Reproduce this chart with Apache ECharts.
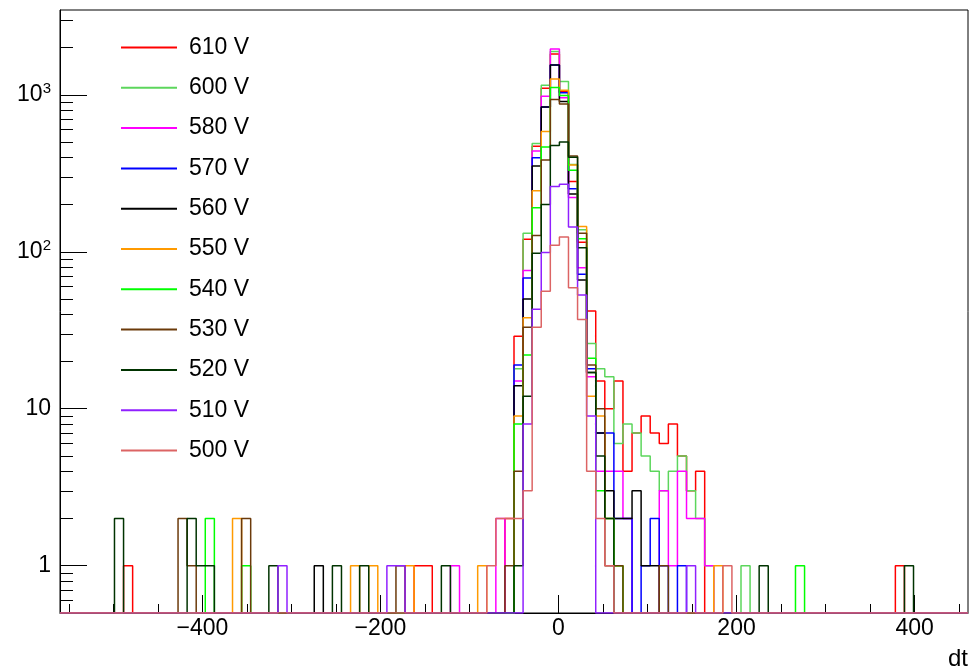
<!DOCTYPE html>
<html>
<head>
<meta charset="utf-8">
<script src="https://cdn.jsdelivr.net/npm/echarts@6/dist/echarts.min.js"></script>
<style>
  html, body { margin: 0; padding: 0; background: #ffffff; }
  #chart { width: 972px; height: 671px; }
</style>
</head>
<body>
<div id="chart"></div>
<script>
// Binning of the dt histograms
const dtMin = -560;
const dtMax = 460;
const nBins = 100;
const yMin = 0.5;
const yMax = 3467;

const voltages = ['610 V', '600 V', '580 V', '570 V', '560 V', '550 V', '540 V', '530 V', '520 V', '510 V', '500 V'];

// Non-empty bins per voltage: [bin index (0-based), entries]
const h610 = [[7,1],[39,1],[40,1],[49,2],[50,29],[51,120],[52,470],[53,1101],[54,1817],[55,1050],[56,280],[57,115],[58,42],[59,15],[60,10],[61,15],[62,4],[63,7],[64,9],[65,7],[66,6],[67,8],[68,5],[69,3],[70,4],[92,1]];
const h600 = [[50,18],[51,131],[52,490],[53,1150],[54,1888],[55,1213],[56,360],[57,138],[58,26],[59,18],[60,16],[61,6],[62,8],[63,7],[64,5],[65,4],[66,3],[67,4],[68,5],[69,3],[70,2],[71,1],[75,1]];
const h580 = [[43,1],[48,2],[50,15],[51,76],[52,438],[53,980],[54,1955],[55,957],[56,222],[57,79],[58,16],[59,4],[60,4],[61,4],[62,2],[66,3],[67,1],[68,4],[69,2],[70,2],[71,1]];
const h570 = [[50,19],[51,68],[52,397],[53,835],[54,1549],[55,1030],[56,252],[57,72],[58,18],[59,7],[60,7],[61,2],[62,2],[64,1],[65,2],[66,1],[68,1]];
const h560 = [[28,1],[50,14],[51,50],[52,352],[53,835],[54,1549],[55,907],[56,233],[57,66],[58,17],[59,7],[60,3],[61,2],[62,2],[63,3],[64,1],[65,1]];
const h550 = [[19,2],[32,1],[34,1],[38,1],[46,1],[50,9],[51,38],[52,245],[53,583],[54,1262],[55,1069],[56,357],[57,145],[58,12],[59,9],[60,2],[61,1],[72,1]];
const h540 = [[16,2],[20,1],[50,8],[51,22],[52,191],[53,464],[54,1112],[55,990],[56,330],[57,121],[58,21],[59,3],[60,2],[61,1],[81,1]];
const h530 = [[13,2],[14,1],[20,2],[37,1],[49,1],[50,4],[51,33],[52,127],[53,384],[54,934],[55,873],[56,408],[57,131],[58,19],[59,10],[60,1],[61,1],[66,1]];
const h520 = [[6,2],[14,2],[15,1],[16,1],[23,1],[30,1],[33,1],[42,1],[50,1],[51,12],[52,98],[53,200],[54,475],[55,501],[56,400],[57,106],[58,17],[59,5],[60,2],[77,1],[93,1]];
const h510 = [[24,1],[36,1],[37,1],[51,8],[52,43],[53,99],[54,260],[55,269],[56,144],[57,53],[58,9],[69,1]];
const h500 = [[47,1],[48,2],[49,2],[50,2],[51,3],[52,33],[53,56],[54,110],[55,124],[56,59],[57,37],[58,4],[59,2],[60,1],[73,1]];

// Axis ticks and labels
const xLabelTicks = [-400, -200, 0, 200, 400];
const xMinorTicks = [-550, -500, -450, -350, -300, -250, -150, -100, -50, 50, 100, 150, 250, 300, 350, 450];
const yLabelTicks = [1, 10, 100, 1000];
const yMinorTicks = [0.6, 0.7, 0.8, 0.9, 2, 3, 4, 5, 6, 7, 8, 9, 20, 30, 40, 50, 60, 70, 80, 90, 200, 300, 400, 500, 600, 700, 800, 900, 2000, 3000];

const histograms = [h610, h600, h580, h570, h560, h550, h540, h530, h520, h510, h500];
const lineColors = ['#ff0000', '#5cd65c', '#ff00ff', '#0000ff', '#000000', '#ff9a00', '#00ff00', '#6b3a0a', '#003300', '#9020ff', '#dc6464'];

const binWidth = (dtMax - dtMin) / nBins;

// Outline of a histogram: a flat segment across every bin; empty bins sit on the axis floor
function outline(entries) {
  const counts = new Array(nBins).fill(0);
  entries.forEach(([bin, n]) => { counts[bin] = n; });
  const pts = [];
  for (let k = 0; k < nBins; k++) {
    const lo = dtMin + k * binWidth;
    const hi = lo + binWidth;
    const v = counts[k] > 0 ? counts[k] : yMin;
    pts.push([lo, v], [hi, v]);
  }
  return pts;
}

const font = '"Liberation Sans", Arial, Helvetica, sans-serif';

const chart = echarts.init(document.getElementById('chart'), null, { renderer: 'canvas' });

chart.setOption({
  animation: false,
  backgroundColor: '#ffffff',
  grid: {
    left: 60, top: 10, width: 908, height: 606,
    show: true, borderColor: '#000000', borderWidth: 1, backgroundColor: 'transparent'
  },
  legend: {
    orient: 'vertical',
    left: 116,
    top: 31,
    itemWidth: 56,
    itemHeight: 2,
    itemGap: 17.3,
    icon: 'path://M0,0H56V2H0Z',
    data: voltages,
    textStyle: { fontFamily: font, fontSize: 23, color: '#000000', lineHeight: 23, padding: [0, 0, 0, 7] },
    selectedMode: false
  },
  xAxis: [
    {
      type: 'value', min: dtMin, max: dtMax, position: 'bottom',
      name: 'dt', nameLocation: 'end', nameGap: 0,
      nameTextStyle: { fontFamily: font, fontSize: 24, color: '#000000', align: 'right', verticalAlign: 'top', padding: [34, 0, 0, 0] },
      axisLine: { show: true, onZero: false, lineStyle: { color: '#000000', width: 1 } },
      axisTick: { show: true, inside: true, length: 18, customValues: xLabelTicks, lineStyle: { color: '#000000', width: 1 } },
      axisLabel: {
        show: true, margin: 4, customValues: xLabelTicks,
        fontFamily: font, fontSize: 23, color: '#000000',
        formatter: v => (v < 0 ? '\u2212' + Math.abs(v) : String(v))
      },
      splitLine: { show: false }
    },
    {
      type: 'value', min: dtMin, max: dtMax, position: 'bottom',
      axisLine: { show: false, onZero: false },
      axisTick: { show: true, inside: true, length: 9, customValues: xMinorTicks, lineStyle: { color: '#000000', width: 1 } },
      axisLabel: { show: false },
      splitLine: { show: false }
    }
  ],
  yAxis: [
    {
      type: 'log', logBase: 10, min: yMin, max: yMax, position: 'left',
      axisLine: { show: true, onZero: false, lineStyle: { color: '#000000', width: 1 } },
      axisTick: { show: true, inside: true, length: 27, customValues: yLabelTicks, lineStyle: { color: '#000000', width: 1 } },
      axisLabel: {
        show: true, margin: 9, customValues: yLabelTicks,
        fontFamily: font, fontSize: 23, color: '#000000',
        formatter: v => {
          const e = Math.round(Math.log10(v));
          if (e <= 1) return String(Math.round(v));
          return '10{s|' + e + '}';
        },
        rich: { s: { fontFamily: font, fontSize: 15, color: '#000000', padding: [0, 0, 12, 0] } }
      },
      splitLine: { show: false }
    },
    {
      type: 'log', logBase: 10, min: yMin, max: yMax, position: 'left',
      axisLine: { show: false, onZero: false },
      axisTick: { show: true, inside: true, length: 13, customValues: yMinorTicks, lineStyle: { color: '#000000', width: 1 } },
      axisLabel: { show: false },
      splitLine: { show: false }
    }
  ],
  series: histograms.map((h, i) => ({
    name: voltages[i],
    type: 'line',
    xAxisIndex: 0,
    yAxisIndex: 0,
    data: outline(h),
    symbol: 'none',
    showSymbol: false,
    clip: true,
    color: lineColors[i],
    lineStyle: { color: lineColors[i], width: 1.5 },
    emphasis: { disabled: true },
    z: 2 + i
  }))
});
</script>
</body>
</html>
